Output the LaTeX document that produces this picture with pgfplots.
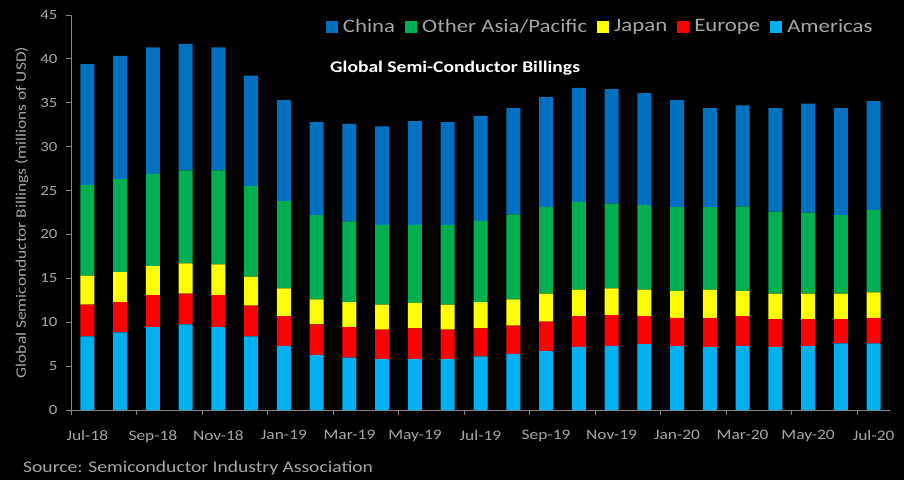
\documentclass[border=0pt]{standalone}
\usepackage{pgfplots}
\pgfplotsset{compat=1.18}
\usepackage{pgfplotstable}
\usepackage{fontspec}
\setmainfont[FakeStretch=1.2]{Carlito}
\definecolor{cChina}{HTML}{0070C0}
\definecolor{cOther}{HTML}{00B050}
\definecolor{cJapan}{HTML}{FFFF00}
\definecolor{cEurope}{HTML}{FF0000}
\definecolor{cAmer}{HTML}{00B0F0}
\definecolor{txtgray}{HTML}{A6A6A6}
\definecolor{axgray}{HTML}{868686}
\pgfplotstableread{
idx A E J O C
0 8.40 3.60 3.30 10.36 13.74
1 8.85 3.45 3.40 10.60 14.05
2 9.45 3.65 3.30 10.50 14.40
3 9.75 3.50 3.45 10.60 14.40
4 9.45 3.65 3.50 10.70 14.00
5 8.40 3.50 3.30 10.30 12.60
6 7.30 3.40 3.15 9.95 11.50
7 6.26 3.49 2.85 9.60 10.60
8 5.96 3.49 2.85 9.20 11.10
9 5.80 3.35 2.85 9.10 11.20
10 5.80 3.50 2.90 8.90 11.80
11 5.80 3.35 2.85 9.10 11.70
12 6.10 3.20 3.00 9.26 11.94
13 6.40 3.20 3.00 9.70 12.10
14 6.70 3.36 3.19 9.85 12.55
15 7.20 3.50 3.00 10.00 13.00
16 7.30 3.50 3.05 9.65 13.06
17 7.50 3.20 3.00 9.65 12.75
18 7.30 3.20 3.05 9.55 12.20
19 7.20 3.30 3.20 9.40 11.30
20 7.30 3.40 2.85 9.65 11.50
21 7.20 3.16 2.89 9.35 11.80
22 7.30 3.06 2.89 9.25 12.40
23 7.60 2.76 2.89 8.95 12.20
24 7.60 2.90 2.90 9.40 12.40
}\data
\begin{document}
\begin{tikzpicture}
\fill[black] (-71pt,-70pt) rectangle (833pt,410pt);
\begin{axis}[
  at={(0pt,0pt)}, anchor=south west,
  scale only axis, width=819pt, height=395pt,
  ybar stacked, bar width=14pt,
  xmin=-0.5, xmax=24.5, ymin=0, ymax=45,
  axis x line*=bottom, axis y line*=left,
  axis line style={draw=axgray, line width=0.8pt},
  tick style={draw=axgray, line width=0.8pt},
  tick align=outside, major tick length=5pt,
  /pgf/number format/assume math mode=true,
  xtick={-0.5,1.5,...,23.5},
  xticklabels={Jul-18,Sep-18,Nov-18,Jan-19,Mar-19,May-19,Jul-19,Sep-19,Nov-19,Jan-20,Mar-20,May-20,Jul-20},
  xticklabel style={xshift=16.38pt, yshift=-12pt, text=txtgray, font=\fontsize{14.5}{17}\selectfont},
  ytick={0,5,...,45},
  yticklabel style={xshift=-5pt, text=txtgray, font=\fontsize{14}{17}\selectfont},
  ylabel={Global Semiconductor Billings (millions of USD)},
  every axis y label/.style={at={(axis description cs:-0.06,0.5)}, rotate=90, anchor=center, text=txtgray, font=\fontsize{14.5}{17}\selectfont},
  legend style={at={(0.985,1.0)}, anchor=north east, draw=none, fill=none, legend columns=-1, text=txtgray, font=\fontsize{19}{23}\selectfont, /tikz/every even column/.append style={column sep=8pt}},
  legend image code/.code={\fill[#1] (0pt,-6pt) rectangle (12pt,6pt); \path (15pt,0pt);},
  reverse legend,
]
\addplot[fill=cAmer, draw=none] table[x=idx, y=A] {\data};
\addplot[fill=cEurope, draw=none] table[x=idx, y=E] {\data};
\addplot[fill=cJapan, draw=none] table[x=idx, y=J] {\data};
\addplot[fill=cOther, draw=none] table[x=idx, y=O] {\data};
\addplot[fill=cChina, draw=none] table[x=idx, y=C] {\data};
\legend{Americas,Europe,Japan,Other Asia/Pacific,China}
\node[white, font=\bfseries\fontsize{16.3}{19}\selectfont] at (rel axis cs:0.469,0.866) {Global Semi-Conductor Billings};
\end{axis}
\node[anchor=base west, text=txtgray, font=\fontsize{16.3}{20}\selectfont, inner sep=0pt] at (-48pt,-62pt) {Source: Semiconductor Industry Association};
\pgfresetboundingbox
\path (-71pt,-70pt) rectangle (833pt,410pt);
\end{tikzpicture}
\end{document}
